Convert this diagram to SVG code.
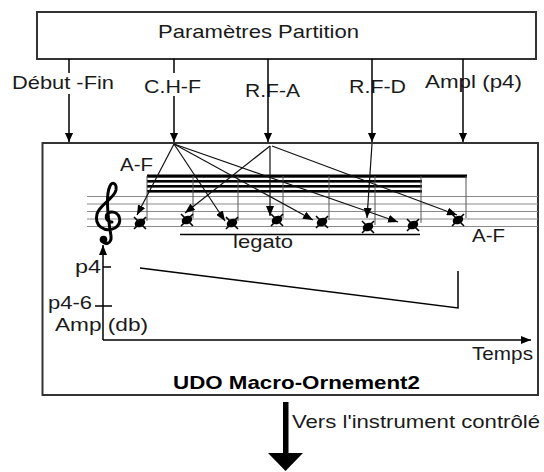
<svg xmlns="http://www.w3.org/2000/svg" width="544" height="472" viewBox="0 0 544 472">
<defs>
<style>
.t{font-family:"Liberation Sans",Arial,sans-serif;font-size:18.5px;fill:#1a1a1a}
.b{font-weight:bold;fill:#000}
.box{fill:#fff;stroke:#333;stroke-width:2}
.ln{stroke:#000;stroke-width:1.5;fill:none}
.fan{stroke:#111;stroke-width:1.2;fill:none}
.staff{stroke:#8a8a8a;stroke-width:1;fill:none}
.stem{stroke:#555;stroke-width:1;fill:none}
.beam{fill:#000}
</style>
<marker id="ah" markerWidth="9" markerHeight="10" refX="10" refY="4.5" orient="auto" markerUnits="userSpaceOnUse" viewBox="0 0 10 9"><path d="M0,0 L10,4.5 L0,9 z" fill="#000"/></marker>
<marker id="ah2" markerWidth="10" markerHeight="8" refX="10" refY="4" orient="auto" markerUnits="userSpaceOnUse" viewBox="0 0 10 8"><path d="M0,0 L10,4 L0,8 z" fill="#000"/></marker>
<g id="notehead"><ellipse cx="0" cy="0" rx="5.5" ry="4" transform="rotate(-25)" fill="#000"/><path d="M-6,-6 L6,6 M6,-6 L-6,6" stroke="#000" stroke-width="1.6"/></g>
</defs>
<rect width="544" height="472" fill="#fff"/>

<g id="partition">
<rect class="box" x="37" y="12" width="499" height="47"/>
<text class="t" x="158" y="38" textLength="201" lengthAdjust="spacingAndGlyphs">Paramètres Partition</text>
</g>

<g id="udo">
<rect class="box" x="42.5" y="143" width="495.5" height="252"/>
<text class="t b" x="173" y="389" textLength="247" lengthAdjust="spacingAndGlyphs">UDO Macro-Ornement2</text>
</g>

<g id="staff">
<path class="staff" d="M87,196.5H538M87,204H538M87,211.5H538M87,219H538M87,226.5H538"/>
<g id="clef">
<path d="M112,222 C105,222 104,213 111,212 C120,211 123,223 115,228 C105,233 94,226 97,214 C100,204 114,199 116,190 C117,183 112,181 110,186 C106,194 107,212 111,236 C112,244 104,246 102,240" fill="none" stroke="#000" stroke-width="3" stroke-linecap="round"/>
<circle cx="103.5" cy="239.5" r="3.8" fill="#000"/>
</g>
<g id="beams">
<rect class="beam" x="147" y="174.5" width="320" height="3.2"/>
<rect class="beam" x="147" y="180" width="275" height="2.6"/>
<rect class="beam" x="147" y="185" width="275" height="2.6"/>
<rect class="beam" x="147" y="190" width="275" height="2.6"/>
</g>
<g id="stems">
<path class="stem" d="M147,176V221M193,176V218M238,176V221M283,176V218M329,176V220M375,176V225M421,176V223M466,176V218"/>
</g>
<g id="notes">
<use href="#notehead" x="140" y="223"/>
<use href="#notehead" x="187" y="220"/>
<use href="#notehead" x="232" y="223"/>
<use href="#notehead" x="277" y="220"/>
<use href="#notehead" x="322" y="222"/>
<use href="#notehead" x="368" y="227"/>
<use href="#notehead" x="413" y="225"/>
<use href="#notehead" x="458" y="220"/>
</g>
<path class="ln" d="M180,234.5H420" stroke-width="1.6"/>
<text class="t" x="233" y="248" textLength="60" lengthAdjust="spacingAndGlyphs">legato</text>
<text class="t" x="120" y="171" textLength="33" lengthAdjust="spacingAndGlyphs">A-F</text>
<text class="t" x="472" y="242" textLength="33" lengthAdjust="spacingAndGlyphs">A-F</text>
</g>

<g id="amplitude">
<path class="ln" d="M103,340V245" marker-end="url(#ah2)"/>
<path class="ln" d="M103,340H531" marker-end="url(#ah2)"/>
<path class="ln" d="M103,267H111M95,306H112"/>
<path class="ln" d="M140,268L458,308V271"/>
<text class="t" x="75" y="273" textLength="26" lengthAdjust="spacingAndGlyphs">p4</text>
<text class="t" x="48" y="309" font-size="17.5" textLength="44" lengthAdjust="spacingAndGlyphs">p4-6</text>
<text class="t" x="55" y="331" font-size="17.5" textLength="93" lengthAdjust="spacingAndGlyphs">Amp (db)</text>
<text class="t" x="472" y="360" textLength="61" lengthAdjust="spacingAndGlyphs">Temps</text>
</g>

<g id="labels">
<text class="t" x="12" y="89" textLength="102" lengthAdjust="spacingAndGlyphs">Début -Fin</text>
<text class="t" x="144" y="93" textLength="57" lengthAdjust="spacingAndGlyphs">C.H-F</text>
<text class="t" x="245" y="97" textLength="55" lengthAdjust="spacingAndGlyphs">R.F-A</text>
<text class="t" x="349" y="93" textLength="57" lengthAdjust="spacingAndGlyphs">R.F-D</text>
<text class="t" x="425" y="88" textLength="97" lengthAdjust="spacingAndGlyphs">Ampl (p4)</text>
<text class="t" x="292" y="428" textLength="248" lengthAdjust="spacingAndGlyphs">Vers l'instrument contrôlé</text>
</g>

<g id="connectors">
<path class="ln" d="M69,59V73"/>
<path class="ln" d="M69,94V142" marker-end="url(#ah)"/>
<path class="ln" d="M174,59V73"/>
<path class="ln" d="M174,96V142" marker-end="url(#ah)"/>
<path class="ln" d="M268,59V142" marker-end="url(#ah)"/>
<path class="ln" d="M372,59V142" marker-end="url(#ah)"/>
<path class="ln" d="M463,59V142" marker-end="url(#ah)"/>
<path class="fan" d="M174,144L137,215" marker-end="url(#ah2)"/>
<path class="fan" d="M174,144L225,221" marker-end="url(#ah2)"/>
<path class="fan" d="M174,144L313,220" marker-end="url(#ah2)"/>
<path class="fan" d="M174,144L398,222" marker-end="url(#ah2)"/>
<path class="fan" d="M270,146L185,213" marker-end="url(#ah2)"/>
<path class="fan" d="M270,146L270,216" marker-end="url(#ah2)"/>
<path class="fan" d="M272,146L457,215" marker-end="url(#ah2)"/>
<path class="fan" d="M372,144L367,218" marker-end="url(#ah2)"/>
<rect x="283" y="402" width="5.5" height="52" fill="#000"/>
<path d="M268,453H303L285.5,471z" fill="#000"/>
</g>
</svg>
